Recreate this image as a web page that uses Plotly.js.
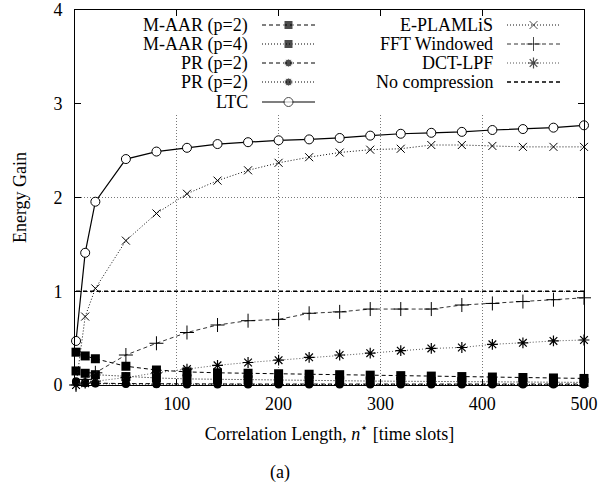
<!DOCTYPE html>
<html><head><meta charset="utf-8">
<script src="https://cdn.plot.ly/plotly-3.0.1.min.js"></script>
<style>html,body{margin:0;padding:0;background:#fff}#chart{width:600px;height:489px}</style>
</head><body><div id="chart"></div>
<script>
// ---- data ----
const corrLength = [1,10,20,50,80,110,140,170,200,230,260,290,320,350,380,410,440,470,500];
const maarP2 = [0.35,0.31,0.28,0.20,0.16,0.14,0.13,0.125,0.12,0.115,0.11,0.105,0.10,0.095,0.09,0.085,0.08,0.075,0.07];
const maarP4 = [0.15,0.125,0.11,0.09,0.075,0.065,0.06,0.055,0.05,0.048,0.045,0.042,0.04,0.038,0.036,0.034,0.032,0.03,0.028];
const prA = [0.04,0.03,0.02,0.015,0.012,0.01,0.01,0.01,0.01,0.01,0.01,0.01,0.01,0.01,0.01,0.01,0.01,0.01,0.01];
const prB = [0.03,0.02,0.015,0.01,0.008,0.006,0.006,0.006,0.006,0.006,0.006,0.006,0.006,0.006,0.006,0.006,0.006,0.006,0.006];
const ltc = [0.47,1.41,1.955,2.41,2.49,2.53,2.57,2.59,2.61,2.62,2.635,2.66,2.68,2.69,2.70,2.72,2.73,2.745,2.77];
const eplamlis = [0.0,0.73,1.03,1.54,1.83,2.04,2.18,2.29,2.37,2.43,2.48,2.51,2.52,2.56,2.56,2.55,2.54,2.54,2.54];
const fftWin = [0.0,0.06,0.13,0.32,0.445,0.56,0.64,0.686,0.70,0.765,0.78,0.81,0.81,0.81,0.853,0.87,0.89,0.91,0.93];
const dctLpf = [0.0,0.02,0.04,0.08,0.13,0.17,0.21,0.24,0.265,0.295,0.32,0.34,0.366,0.39,0.40,0.434,0.45,0.47,0.48];
const noCompression = [1,1,1,1,1,1,1,1,1,1,1,1,1,1,1,1,1,1,1];
const xTicks = [100,200,300,400,500];
const yTicks = [0,1,2,3,4];
const seriesNames = ["M-AAR (p=2)","M-AAR (p=4)","PR (p=2)","PR (p=2)","LTC","E-PLAMLiS","FFT Windowed","DCT-LPF","No compression"];

// ---- styles ----
const FONT = "Liberation Serif";
const DASH = "4px,3px", DOT = "1px,2px";
const styles = [
  {y: maarP2, line:{color:"#000",width:1,dash:DASH}, marker:{symbol:"square",size:9,color:"#000"}},
  {y: maarP4, line:{color:"#000",width:1,dash:DOT}, marker:{symbol:"square",size:9,color:"#000"}},
  {y: prA, line:{color:"#000",width:1,dash:DASH}, marker:{symbol:"circle",size:8,color:"#000"}},
  {y: prB, line:{color:"#000",width:1,dash:DOT}, marker:{symbol:"circle",size:8,color:"#000"}},
  {y: ltc, line:{color:"#000",width:1.2}, marker:{symbol:"circle",size:9,color:"#fff",line:{color:"#000",width:1}}},
  {y: eplamlis, line:{color:"#111",width:1,dash:DOT}, marker:{symbol:"x-thin-open",size:8,color:"#000",line:{color:"#000",width:1}}},
  {y: fftWin, line:{color:"#333",width:1,dash:DASH}, marker:{symbol:"cross-thin-open",size:10,color:"#000",line:{color:"#000",width:1}}},
  {y: dctLpf, line:{color:"#555",width:1,dash:DOT}, marker:{symbol:"asterisk-open",size:9,color:"#000",line:{color:"#000",width:1.2}}},
  {y: noCompression, line:{color:"#000",width:1.4,dash:DASH}, marker:null}
];

const traces = [];
styles.forEach((s,i)=>{
  const t = {x: corrLength, y: s.y, type:"scatter", mode: s.marker ? "lines+markers" : "lines",
    line: s.line, showlegend:false, hoverinfo:"skip", cliponaxis:false};
  if (s.marker) t.marker = s.marker;
  traces.push(t);
});

// ---- custom legend (gnuplot style: text then sample) on a pixel-space overlay axis ----
const legendPos = [
  {tx:250, x0:262, x1:315, y:25},
  {tx:250, x0:262, x1:315, y:44},
  {tx:250, x0:262, x1:315, y:63},
  {tx:250, x0:262, x1:315, y:82},
  {tx:250, x0:262, x1:315, y:102},
  {tx:495, x0:507, x1:560, y:25},
  {tx:495, x0:507, x1:560, y:44},
  {tx:495, x0:507, x1:560, y:63},
  {tx:495, x0:507, x1:560, y:82}
];
const annotations = [];
styles.forEach((s,i)=>{
  const p = legendPos[i];
  const t = {x:[p.x0,(p.x0+p.x1)/2,p.x1], y:[p.y,p.y,p.y], xaxis:"x2", yaxis:"y2", type:"scatter",
    mode: s.marker ? "lines+markers":"lines", line: s.line, showlegend:false, hoverinfo:"skip", cliponaxis:false};
  if (s.marker) t.marker = Object.assign({}, s.marker, {size:[0,s.marker.size,0]});
  traces.push(t);
  annotations.push({xref:"x2", yref:"y2", x:p.tx, y:p.y, text:seriesNames[i], showarrow:false,
    xanchor:"right", yanchor:"middle", font:{family:FONT,size:18,color:"#000"}});
});
annotations.push({xref:"paper", yref:"paper", x:(280-75)/509, y:-(473-385)/375, text:"(a)", showarrow:false,
  xanchor:"center", yanchor:"middle", font:{family:FONT,size:18,color:"#000"}});

const layout = {
  width:600, height:489,
  margin:{l:75, r:16, t:10, b:104, pad:0},
  paper_bgcolor:"#fff", plot_bgcolor:"#fff",
  font:{family:FONT, size:18, color:"#000"},
  showlegend:false,
  xaxis:{range:[0,500], tickvals:xTicks, ticktext:xTicks.map(String), ticks:"inside", ticklen:6, tickcolor:"#000",
    showline:true, linecolor:"#000", linewidth:1, mirror:"ticks", zeroline:false,
    showgrid:true, gridcolor:"#777", griddash:"1px,2px", gridwidth:1,
    tickfont:{family:FONT,size:18}, ticklabelstandoff:2,
    title:{text:"Correlation Length, <i>n</i><sup>⋆</sup> [time slots]", font:{family:FONT,size:18}, standoff:14}},
  yaxis:{range:[0,4], tickvals:yTicks, ticktext:yTicks.map(String), ticks:"inside", ticklen:6, tickcolor:"#000",
    showline:true, linecolor:"#000", linewidth:1, mirror:"ticks", zeroline:false,
    showgrid:true, gridcolor:"#777", griddash:"1px,2px", gridwidth:1,
    tickfont:{family:FONT,size:18}, ticklabelstandoff:8,
    title:{text:"Energy Gain", font:{family:FONT,size:18}, standoff:22}},
  xaxis2:{overlaying:"x", anchor:"y2", range:[75,584], visible:false, fixedrange:true},
  yaxis2:{overlaying:"y", anchor:"x2", range:[385,10], visible:false, fixedrange:true},
  shapes:[{type:"rect", xref:"x", yref:"y", x0:0, x1:500, y0:2.88, y1:4, layer:"between",
    fillcolor:"#fff", line:{width:0}}],
  annotations: annotations
};
Plotly.newPlot("chart", traces, layout, {staticPlot:true, displayModeBar:false});
</script></body></html>
